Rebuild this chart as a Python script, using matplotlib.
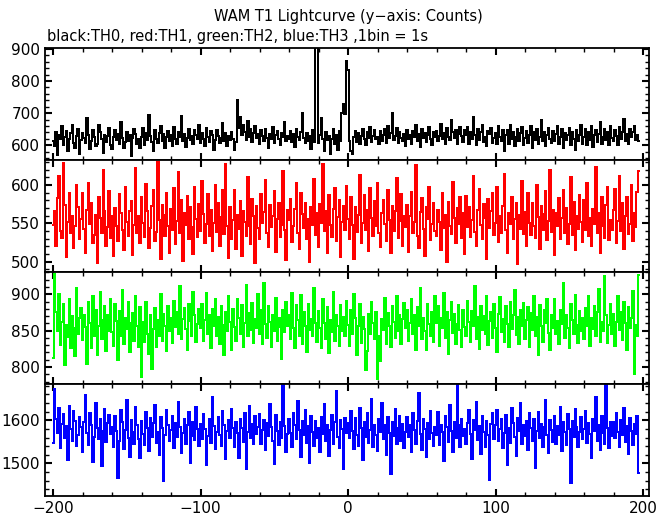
import numpy as np
import matplotlib
matplotlib.use("Agg")
import matplotlib.pyplot as plt
from matplotlib.ticker import MultipleLocator

# 1 bin = 1 s, first bin at -200 s
t_start = -200

th0 = [  # black
    612, 598, 640, 571, 633, 618, 659, 602, 627, 645, 581, 620, 637, 664, 608, 593, 629, 651, 574, 616,
    639, 622, 607, 684, 631, 588, 614, 646, 625, 597, 605, 662, 641, 619, 576, 633, 611, 628, 655, 600,
    589, 626, 648, 617, 635, 603, 671, 622, 591, 609, 642, 613, 632, 568, 624, 650, 636, 604, 618, 593,
    627, 654, 601, 638, 616, 695, 629, 610, 583, 647, 621, 606, 639, 660, 612, 634, 590, 625, 643, 614,
    631, 599, 658, 620, 605, 640, 627, 690, 612, 636, 594, 623, 650, 615, 628, 604, 646, 633, 619, 662,
    608, 637, 621, 598, 653, 626, 611, 644, 632, 585, 617, 649, 630, 606, 624, 668, 613, 639, 597, 628,
    615, 642, 620, 584, 610, 742, 655, 689, 631, 664, 640, 617, 676, 626, 652, 609, 638, 661, 622, 634,
    603, 647, 628, 612, 650, 624, 591, 636, 618, 657, 607, 632, 645, 619, 600, 639, 626, 671, 613, 629,
    621, 644, 609, 635, 596, 652, 627, 616, 640, 700, 622, 606, 637, 614, 630, 589, 648, 611, 918, 912,
    608, 631, 684, 619, 582, 641, 616, 629, 573, 620, 650, 603, 633, 586, 644, 612, 700, 728, 697, 862,
    834, 612, 583, 572, 626, 643, 611, 637, 605, 628, 652, 618, 601, 641, 624, 657, 609, 630, 647, 619,
    626, 603, 645, 614, 633, 651, 606, 659, 622, 638, 702, 617, 629, 654, 608, 641, 624, 612, 636, 598,
    648, 619, 631, 604, 643, 627, 662, 613, 635, 594, 652, 624, 638, 609, 632, 656, 618, 602, 641, 626,
    644, 612, 630, 665, 621, 639, 605, 653, 627, 616, 680, 641, 623, 649, 603, 636, 658, 628, 611, 646,
    632, 657, 604, 640, 620, 688, 631, 601, 650, 617, 642, 662, 611, 627, 597, 645, 634, 655, 606, 623,
    639, 604, 661, 627, 612, 646, 583, 631, 649, 603, 664, 618, 641, 597, 626, 651, 613, 637, 658, 602,
    622, 644, 607, 633, 660, 592, 641, 616, 651, 604, 627, 678, 612, 640, 598, 632, 654, 621, 607, 645,
    613, 636, 659, 603, 626, 650, 591, 639, 617, 631, 655, 602, 642, 620, 586, 646, 612, 631, 664, 603,
    626, 651, 602, 640, 617, 660, 596, 631, 647, 611, 636, 672, 603, 627, 651, 615, 642, 601, 661, 624,
    612, 646, 630, 602, 656, 621, 641, 683, 612, 634, 603, 650, 627, 640, 661, 616, 631, 613,
]

th1 = [  # red
    548, 566, 521, 583, 612, 540, 531, 629, 574, 506, 552, 589, 537, 560, 518, 547, 600, 571, 529, 556,
    590, 543, 512, 568, 603, 549, 577, 525, 535, 561, 498, 584, 557, 538, 620, 566, 520, 545, 592, 531,
    559, 507, 570, 546, 527, 588, 563, 541, 515, 597, 552, 533, 566, 579, 509, 548, 622, 537, 560, 524,
    585, 550, 532, 601, 566, 518, 544, 572, 593, 527, 539, 630, 555, 503, 574, 561, 534, 590, 547, 512,
    569, 541, 596, 523, 553, 617, 538, 580, 501, 563, 548, 586, 529, 571, 545, 510, 598, 556, 532, 575,
    540, 605, 562, 524, 549, 588, 533, 567, 514, 551, 600, 539, 576, 520, 558, 593, 536, 627, 546, 505,
    571, 530, 555, 594, 517, 561, 543, 579, 508, 566, 552, 534, 611, 547, 523, 582, 560, 498, 573, 544,
    529, 588, 550, 565, 606, 537, 519, 574, 545, 560, 592, 513, 556, 576, 532, 548, 618, 541, 502, 568,
    554, 582, 526, 547, 569, 603, 538, 517, 590, 562, 544, 577, 529, 556, 499, 571, 548, 608, 535, 563,
    519, 575, 551, 628, 540, 566, 512, 587, 548, 532, 569, 596, 527, 558, 581, 506, 552, 573, 541, 599,
    556, 530, 584, 548, 504, 571, 539, 561, 613, 525, 550, 587, 542, 568, 514, 596, 557, 533, 579, 546,
    602, 537, 519, 563, 580, 549, 527, 594, 555, 511, 572, 540, 566, 609, 531, 553, 588, 521, 560, 545,
    574, 513, 559, 591, 538, 552, 626, 534, 518, 565, 583, 543, 507, 571, 556, 597, 528, 549, 576, 540,
    533, 568, 552, 515, 589, 544, 561, 500, 578, 547, 536, 604, 557, 524, 570, 549, 585, 531, 563, 510,
    586, 545, 571, 532, 554, 612, 539, 520, 567, 595, 548, 529, 575, 557, 503, 582, 544, 566, 590, 535,
    551, 598, 526, 560, 537, 573, 615, 542, 511, 564, 549, 584, 530, 556, 577, 497, 561, 543, 605, 536,
    565, 521, 589, 550, 535, 577, 546, 531, 600, 558, 516, 572, 541, 562, 592, 528, 553, 619, 539, 567,
    509, 563, 546, 583, 529, 557, 594, 538, 570, 523, 549, 610, 535, 578, 515, 560, 543, 587, 552, 526,
    580, 541, 603, 534, 557, 520, 569, 549, 624, 538, 564, 511, 585, 546, 531, 574, 598, 528, 555, 542,
    567, 595, 525, 553, 612, 540, 576, 516, 559, 584, 536, 549, 600, 527, 563, 545, 591, 618,
]

th2 = [  # green
    812, 928, 876, 849, 901, 830, 862, 887, 803, 858, 841, 894, 826, 870, 853, 815, 909, 846, 868, 881,
    837, 872, 855, 804, 889, 861, 826, 898, 843, 879, 817, 856, 903, 838, 865, 884, 822, 871, 850, 893,
    848, 829, 886, 863, 810, 877, 842, 906, 831, 868, 852, 889, 820, 861, 874, 836, 898, 857, 827, 882,
    786, 862, 835, 889, 845, 818, 871, 797, 852, 881, 828, 864, 843, 901, 836, 873, 857, 822, 884, 850,
    868, 833, 891, 855, 876, 846, 912, 838, 866, 881, 852, 824, 887, 863, 842, 903, 871, 835, 859, 880,
    853, 887, 836, 864, 902, 845, 871, 826, 880, 857, 893, 842, 869, 831, 884, 858, 817, 875, 849, 898,
    862, 823, 880, 855, 836, 894, 868, 846, 885, 827, 860, 913, 842, 874, 851, 888, 833, 866, 853, 900,
    845, 878, 831, 916, 859, 840, 884, 862, 827, 872, 849, 895, 836, 867, 855, 811, 879, 848, 890, 857,
    871, 838, 902, 854, 826, 885, 864, 843, 899, 832, 876, 857, 820, 887, 851, 866, 842, 908, 861, 835,
    877, 853, 826, 894, 860, 838, 882, 819, 865, 848, 903, 836, 872, 857, 829, 885, 850, 869, 842, 891,
    858, 829, 879, 846, 901, 868, 817, 856, 886, 833, 869, 852, 796, 822, 873, 845, 889, 861, 838, 876,
    784, 842, 808, 866, 851, 895, 832, 874, 857, 827, 884, 862, 840, 898, 849, 871, 831, 866, 888, 853,
    879, 836, 860, 893, 845, 871, 824, 882, 856, 909, 838, 867, 850, 823, 887, 859, 842, 876, 834, 897,
    861, 884, 829, 868, 853, 902, 840, 875, 818, 864, 890, 847, 873, 832, 859, 885, 851, 827, 878, 855,
    843, 891, 862, 834, 877, 856, 912, 838, 869, 825, 884, 851, 870, 846, 898, 830, 863, 876, 840, 886,
    854, 820, 873, 896, 848, 866, 835, 884, 859, 827, 890, 852, 872, 906, 844, 869, 831, 878, 856, 888,
    839, 865, 882, 828, 874, 851, 897, 843, 869, 816, 885, 857, 834, 879, 860, 893, 847, 823, 871, 854,
    894, 846, 863, 831, 879, 859, 915, 840, 872, 853, 826, 887, 864, 845, 899, 858, 833, 877, 850, 868,
    838, 881, 856, 897, 829, 868, 852, 884, 843, 875, 907, 835, 862, 849, 925, 871, 833, 858, 886, 845,
    873, 829, 862, 898, 851, 876, 837, 889, 860, 823, 882, 854, 867, 905, 790, 858, 842, 927,
]

th3 = [  # blue
    1548, 1672, 1603, 1571, 1629, 1535, 1592, 1614, 1560, 1587, 1508, 1633, 1579, 1552, 1621, 1598, 1540, 1566, 1607, 1584,
    1527, 1595, 1658, 1570, 1543, 1617, 1589, 1503, 1562, 1640, 1581, 1556, 1604, 1493, 1575, 1626, 1549, 1593, 1612, 1568,
    1585, 1538, 1609, 1576, 1465, 1551, 1623, 1597, 1534, 1578, 1648, 1559, 1515, 1601, 1572, 1545, 1631, 1588, 1556, 1512,
    1599, 1569, 1542, 1620, 1583, 1528, 1605, 1561, 1594, 1636, 1547, 1574, 1519, 1608, 1582, 1459, 1567, 1625, 1590, 1553,
    1577, 1611, 1536, 1594, 1561, 1642, 1585, 1523, 1570, 1603, 1546, 1588, 1619, 1501, 1564, 1597, 1555, 1632, 1579, 1540,
    1592, 1557, 1615, 1580, 1496, 1563, 1602, 1548, 1655, 1586, 1533, 1574, 1608, 1566, 1541, 1621, 1589, 1510, 1576, 1600,
    1559, 1626, 1583, 1537, 1596, 1570, 1512, 1604, 1581, 1550, 1617, 1488, 1573, 1634, 1558, 1591, 1544, 1609, 1568, 1584,
    1615, 1546, 1578, 1601, 1530, 1593, 1564, 1637, 1585, 1552, 1499, 1612, 1575, 1543, 1596, 1560, 1682, 1587, 1526, 1569,
    1603, 1571, 1539, 1618, 1590, 1556, 1645, 1577, 1514, 1598, 1565, 1623, 1548, 1586, 1502, 1610, 1574, 1541, 1599, 1560,
    1582, 1527, 1608, 1569, 1637, 1553, 1590, 1516, 1578, 1613, 1544, 1597, 1667, 1562, 1535, 1600, 1579, 1488, 1606, 1571,
    1594, 1558, 1621, 1576, 1533, 1605, 1567, 1540, 1629, 1583, 1507, 1595, 1561, 1616, 1548, 1577, 1650, 1539, 1588, 1565,
    1529, 1602, 1573, 1641, 1556, 1589, 1520, 1608, 1570, 1475, 1596, 1563, 1627, 1545, 1581, 1610, 1552, 1592, 1536, 1574,
    1607, 1561, 1588, 1526, 1618, 1577, 1546, 1599, 1664, 1568, 1532, 1603, 1580, 1514, 1593, 1556, 1622, 1571, 1540, 1585,
    1566, 1619, 1542, 1590, 1572, 1505, 1611, 1584, 1549, 1636, 1575, 1527, 1597, 1560, 1681, 1588, 1537, 1604, 1564, 1579,
    1546, 1593, 1625, 1568, 1510, 1600, 1577, 1643, 1554, 1586, 1521, 1609, 1573, 1538, 1598, 1566, 1462, 1591, 1618, 1557,
    1588, 1624, 1551, 1579, 1603, 1536, 1570, 1612, 1497, 1583, 1548, 1629, 1594, 1562, 1518, 1605, 1576, 1640, 1545, 1590,
    1563, 1598, 1530, 1616, 1581, 1553, 1604, 1489, 1575, 1620, 1559, 1592, 1537, 1585, 1646, 1567, 1524, 1601, 1578, 1550,
    1610, 1544, 1587, 1565, 1631, 1528, 1596, 1572, 1543, 1615, 1580, 1454, 1599, 1561, 1626, 1585, 1539, 1573, 1607, 1556,
    1579, 1622, 1547, 1594, 1568, 1513, 1603, 1576, 1654, 1552, 1589, 1531, 1611, 1570, 1545, 1683, 1582, 1535, 1597, 1563,
    1595, 1558, 1617, 1574, 1539, 1601, 1566, 1628, 1550, 1587, 1522, 1606, 1575, 1543, 1592, 1568, 1611, 1478,
]

series = [th0, th1, th2, th3]
colors = ["black", "#ff0000", "#00ff00", "#0000ff"]
ylims = [(555, 904), (487, 633), (777, 931), (1425, 1685)]
ymajor = [100, 50, 50, 100]
yminor = [20, 10, 10, 20]

fig = plt.figure(figsize=(6.69, 5.15), dpi=100)
left, width = 45 / 669, 604 / 669
h = 112 / 515
bottom0 = 1 - 495.7 / 515

for k in range(4):
    y0 = bottom0 + (3 - k) * h
    ax = fig.add_axes([left, y0, width, h])
    t = np.arange(t_start, t_start + len(series[k]))
    ax.plot(t, series[k], drawstyle="steps-mid", color=colors[k], lw=1.1,
            antialiased=False)
    ax.set_xlim(-205.5, 204)
    ax.set_ylim(*ylims[k])
    ax.xaxis.set_major_locator(MultipleLocator(100))
    ax.xaxis.set_minor_locator(MultipleLocator(20))
    ax.yaxis.set_major_locator(MultipleLocator(ymajor[k]))
    ax.yaxis.set_minor_locator(MultipleLocator(yminor[k]))
    ax.tick_params(which="both", direction="in", top=True, right=True, labelsize=11)
    ax.tick_params(which="major", length=5, width=1.5)
    ax.tick_params(which="minor", length=3, width=1)
    for s in ax.spines.values():
        s.set_linewidth(1.3)
    if k < 3:
        ax.tick_params(labelbottom=False)

fig.text(348 / 669, 1 - 17 / 515, "WAM T1 Lightcurve (y\u2212axis: Counts)",
         ha="center", va="center", fontsize=10.5)
fig.text(47 / 669, 1 - 36 / 515, "black:TH0, red:TH1, green:TH2, blue:TH3 ,1bin = 1s",
         ha="left", va="center", fontsize=10.5)

fig.savefig("out.png", dpi=100)
